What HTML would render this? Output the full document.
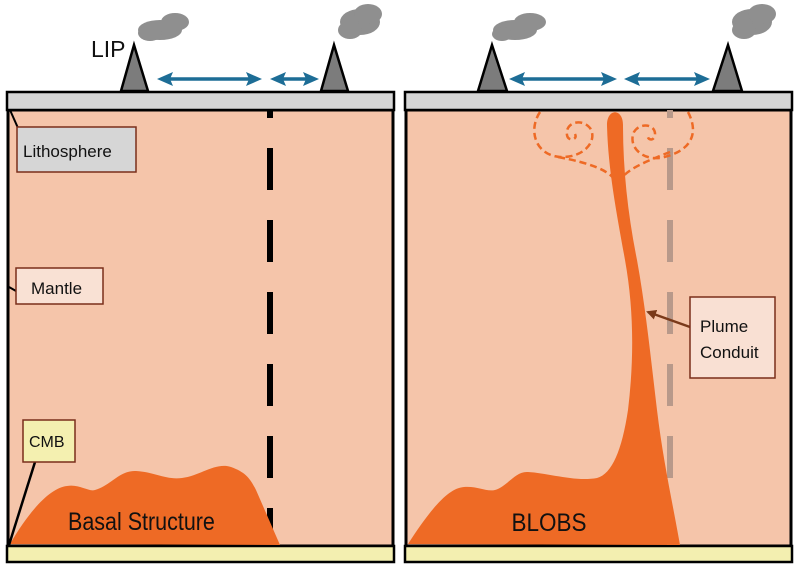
<!DOCTYPE html>
<html><head><meta charset="utf-8"><style>
html,body{margin:0;padding:0;background:#fff;}
svg{display:block;}
text{font-family:"Liberation Sans",sans-serif;}
</style></head><body>
<svg width="800" height="569" viewBox="0 0 800 569" xmlns="http://www.w3.org/2000/svg">
<defs>
<marker id="ab" markerWidth="16" markerHeight="14" refX="8" refY="7" orient="auto-start-reverse" markerUnits="userSpaceOnUse"><path d="M0,0 L16,7 L0,14 L3,7 Z" fill="#1d6d96"/></marker>
<marker id="br" markerWidth="10" markerHeight="10" refX="8" refY="5" orient="auto" markerUnits="userSpaceOnUse"><path d="M0,0 L10,5 L0,10 Z" fill="#7a3a1a"/></marker>
</defs>

<!-- LEFT PANEL -->
<rect x="8" y="110" width="385" height="436" fill="#f5c5aa" stroke="#000" stroke-width="3"/>
<rect x="7" y="92" width="387" height="18" fill="#d6d6d6" stroke="#000" stroke-width="2.5"/>
<rect x="7" y="546" width="387" height="16" fill="#f3efb0" stroke="#000" stroke-width="2.5"/>
<line x1="270" y1="110" x2="270" y2="545" stroke="#000" stroke-width="6" stroke-dasharray="8 30 42 30 42 30 42 30 42 30 42 30 42 30"/>
<path d="M10,544 C30,510 50,488 67,486 C80,484 88,492 95,490 C110,486 120,470 136,471 C155,472 165,480 182,478 C200,476 215,462 231,467 C245,472 250,478 256,490 L280,545 Z" fill="#ee6a25"/>
<text x="0" y="530" font-size="25" fill="#111" transform="translate(68,0) scale(0.86,1)">Basal Structure</text>
<!-- volcanoes -->
<path d="M121,91 L134,45 L148,91 Z" fill="#7c7c7c" stroke="#000" stroke-width="2.5"/>
<path d="M321,91 L334,45 L348,91 Z" fill="#7c7c7c" stroke="#000" stroke-width="2.5"/>
<g fill="#8f8f8f">
<ellipse cx="160" cy="30" rx="22" ry="10"/><ellipse cx="175" cy="22" rx="14" ry="9"/><ellipse cx="150" cy="33" rx="12" ry="8"/>
<ellipse cx="360" cy="22" rx="20" ry="13"/><ellipse cx="368" cy="14" rx="14" ry="10"/><ellipse cx="350" cy="30" rx="12" ry="9"/>
<ellipse cx="515" cy="30" rx="22" ry="10"/><ellipse cx="530" cy="22" rx="16" ry="9"/><ellipse cx="502" cy="34" rx="10" ry="7"/>
<ellipse cx="752" cy="22" rx="20" ry="13"/><ellipse cx="762" cy="14" rx="14" ry="10"/><ellipse cx="744" cy="30" rx="12" ry="9"/>
</g>
<text x="91" y="57" font-size="23" fill="#111">LIP</text>
<g stroke="#1d6d96" stroke-width="3.5">
<line x1="165" y1="79" x2="254" y2="79" marker-start="url(#ab)" marker-end="url(#ab)"/>
<line x1="278" y1="79" x2="311" y2="79" marker-start="url(#ab)" marker-end="url(#ab)"/>
<line x1="517" y1="79" x2="609" y2="79" marker-start="url(#ab)" marker-end="url(#ab)"/>
<line x1="632" y1="79" x2="702" y2="79" marker-start="url(#ab)" marker-end="url(#ab)"/>
</g>
<!-- labels left -->
<line x1="10" y1="110" x2="18" y2="128" stroke="#000" stroke-width="2"/>
<rect x="17" y="127" width="119" height="45" fill="#d6d6d6" stroke="#7a2e1a" stroke-width="1.5"/>
<text x="23" y="157" font-size="17" fill="#111">Lithosphere</text>
<line x1="9" y1="287" x2="16" y2="291" stroke="#000" stroke-width="2"/>
<rect x="16" y="268" width="87" height="36" fill="#f9e1d4" stroke="#7a2e1a" stroke-width="1.5"/>
<text x="31" y="294" font-size="17" fill="#111">Mantle</text>
<line x1="35" y1="462" x2="9" y2="545" stroke="#000" stroke-width="2.5"/>
<rect x="23" y="420" width="52" height="42" fill="#f4f0b0" stroke="#7a2e1a" stroke-width="1.5"/>
<text x="29" y="447" font-size="16" fill="#111">CMB</text>

<!-- RIGHT PANEL -->
<rect x="406" y="110" width="385" height="436" fill="#f5c5aa" stroke="#000" stroke-width="3"/>
<rect x="405" y="92" width="387" height="18" fill="#d6d6d6" stroke="#000" stroke-width="2.5"/>
<rect x="405" y="546" width="387" height="16" fill="#f3efb0" stroke="#000" stroke-width="2.5"/>
<line x1="670" y1="110" x2="670" y2="545" stroke="#b8998a" stroke-width="6" stroke-dasharray="8 30 42 30 42 30 42 30 42 30 42 30 42 30"/>
<path d="M408,544 C430,510 448,488 464,487 C478,486 486,492 495,490 C508,486 515,471 528,472 C548,473 575,482 597,478 C612,474 622,450 628,410 C634,360 634,310 625,260 C617,215 608,170 607,125 C607,108 623,108 623,125 C623,170 628,215 637,260 C646,310 651,360 657,410 C663,460 672,500 680,545 Z" fill="#ee6a25"/>
<text x="549" y="531" font-size="25" text-anchor="middle" fill="#111" transform="translate(549,0) scale(0.9,1) translate(-549,0)">BLOBS</text>
<g fill="none" stroke="#ee6a25" stroke-width="2.5" stroke-dasharray="7 4">
<path d="M540,112 C528,130 535,155 560,157 C585,158 598,140 590,128 C582,118 565,122 567,135 C568,142 578,140 575,134"/>
<path d="M558,157 C590,163 608,170 615,180"/>
<path d="M688,112 C700,135 690,152 660,158 C640,160 628,145 634,132 C640,122 656,124 655,135 C654,142 646,140 648,134"/>
<path d="M670,152 C650,160 628,168 620,180"/>
</g>
<path d="M492,45 L478,91 L507,91 Z" fill="#7c7c7c" stroke="#000" stroke-width="2.5"/>
<path d="M728,45 L713,91 L742,91 Z" fill="#7c7c7c" stroke="#000" stroke-width="2.5"/>
<line x1="690" y1="327" x2="648" y2="312" stroke="#7a3a1a" stroke-width="2.5" marker-end="url(#br)"/>
<rect x="690" y="297" width="85" height="81" fill="#f9e0d3" stroke="#7a2e1a" stroke-width="1.5"/>
<text x="700" y="332" font-size="17" fill="#111">Plume</text>
<text x="700" y="358" font-size="17" fill="#111">Conduit</text>
</svg>
</body></html>
